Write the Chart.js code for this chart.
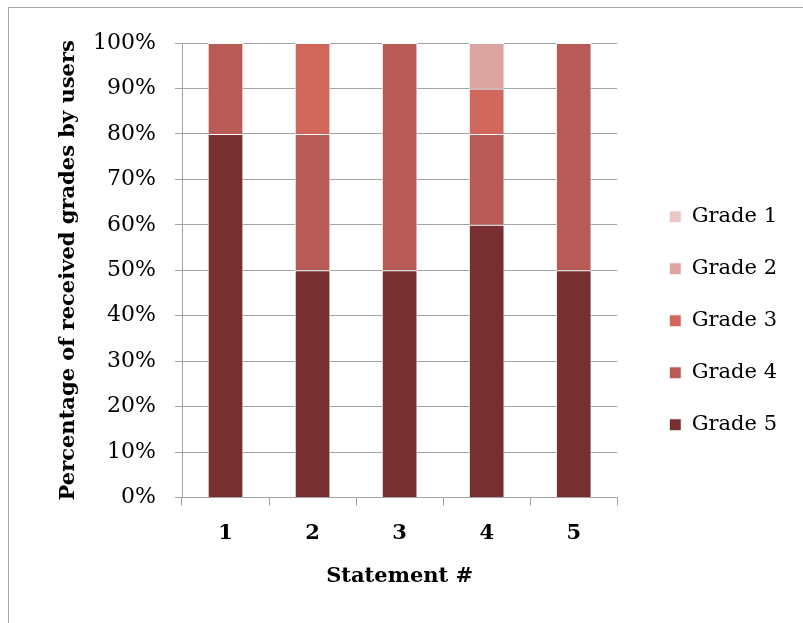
<!DOCTYPE html>
<html>
<head>
<meta charset="utf-8">
<script src="https://cdn.jsdelivr.net/npm/chart.js@4/dist/chart.umd.min.js"></script>
<style>
  body { margin: 0; background: #fff; }
  #frame { position: absolute; left: 8px; top: 7px; right: 0; bottom: 0; border-top: 1px solid #a6a6a6; border-left: 1px solid #a6a6a6; }
  #wrap { position: absolute; left: 0; top: 0; width: 803px; height: 623px; }
</style>
</head>
<body>
<div id="frame"></div>
<div id="wrap"><canvas id="gradeChart"></canvas></div>
<script>
const statements = ["1", "2", "3", "4", "5"];
// percent of users giving each grade, per statement
const grade5 = [80, 50, 50, 60, 50];
const grade4 = [20, 30, 50, 20, 50];
const grade3 = [0, 20, 0, 10, 0];
const grade2 = [0, 0, 0, 10, 0];
const grade1 = [0, 0, 0, 0, 0];
const yTicks = [0, 10, 20, 30, 40, 50, 60, 70, 80, 90, 100];

const fontFamily = "'DejaVu Serif', serif";
const gridGray = "#a3a3a3";

const ctx = document.getElementById("gradeChart").getContext("2d");
new Chart(ctx, {
  type: "bar",
  data: {
    labels: statements,
    datasets: [
      { label: "Grade 5", data: grade5, backgroundColor: "#772f2f" },
      { label: "Grade 4", data: grade4, backgroundColor: "#b85a55" },
      { label: "Grade 3", data: grade3, backgroundColor: "#d0665c" },
      { label: "Grade 2", data: grade2, backgroundColor: "#dba4a0" },
      { label: "Grade 1", data: grade1, backgroundColor: "#ebc6c5" },
    ],
  },
  options: {
    responsive: true,
    maintainAspectRatio: false,
    animation: false,
    datasets: {
      bar: {
        categoryPercentage: 1,
        barPercentage: 0.41,
        borderColor: "#ffffff",
        borderWidth: 1,
      },
    },
    layout: {
      padding: { left: 56, top: 43, right: 16, bottom: 34 },
    },
    plugins: {
      tooltip: { enabled: false },
      legend: {
        display: true,
        position: "right",
        reverse: true,
        // empty title just nudges the items down a little
        title: { display: true, text: " ", padding: 0, font: { size: 8 } },
        labels: {
          color: "#000000",
          boxWidth: 12,
          boxHeight: 12,
          padding: 31,
          font: { family: fontFamily, size: 21 },
        },
      },
    },
    scales: {
      x: {
        stacked: true,
        grid: {
          display: true,
          drawOnChartArea: false,
          offset: true,
          color: gridGray,
          tickLength: 8,
        },
        border: { display: true, color: gridGray },
        ticks: {
          color: "#000000",
          padding: 15,
          font: { family: fontFamily, size: 21, weight: "bold" },
        },
        title: {
          display: true,
          text: "Statement #",
          color: "#000000",
          padding: { top: 3, bottom: 0 },
          font: { family: fontFamily, size: 21, weight: "bold" },
        },
      },
      y: {
        stacked: true,
        min: 0,
        max: 100,
        afterBuildTicks: (scale) => {
          scale.ticks = yTicks.map((v) => ({ value: v }));
        },
        afterFit: (scale) => {
          scale.width = 126;
        },
        grid: { color: gridGray, tickLength: 7 },
        border: { display: true, color: gridGray },
        ticks: {
          color: "#000000",
          padding: 19,
          font: { family: fontFamily, size: 22 },
          callback: (v) => v + "%",
        },
        title: {
          display: true,
          text: "Percentage of received grades by users",
          color: "#000000",
          padding: { top: 0, bottom: 19 },
          font: { family: fontFamily, size: 21, weight: "bold" },
        },
      },
      // hidden axis, only keeps a gap between the bars and the legend
      spacer: {
        type: "linear",
        position: "right",
        display: false,
        afterFit: (scale) => {
          scale.width = 21;
        },
      },
    },
  },
});
</script>
</body>
</html>
